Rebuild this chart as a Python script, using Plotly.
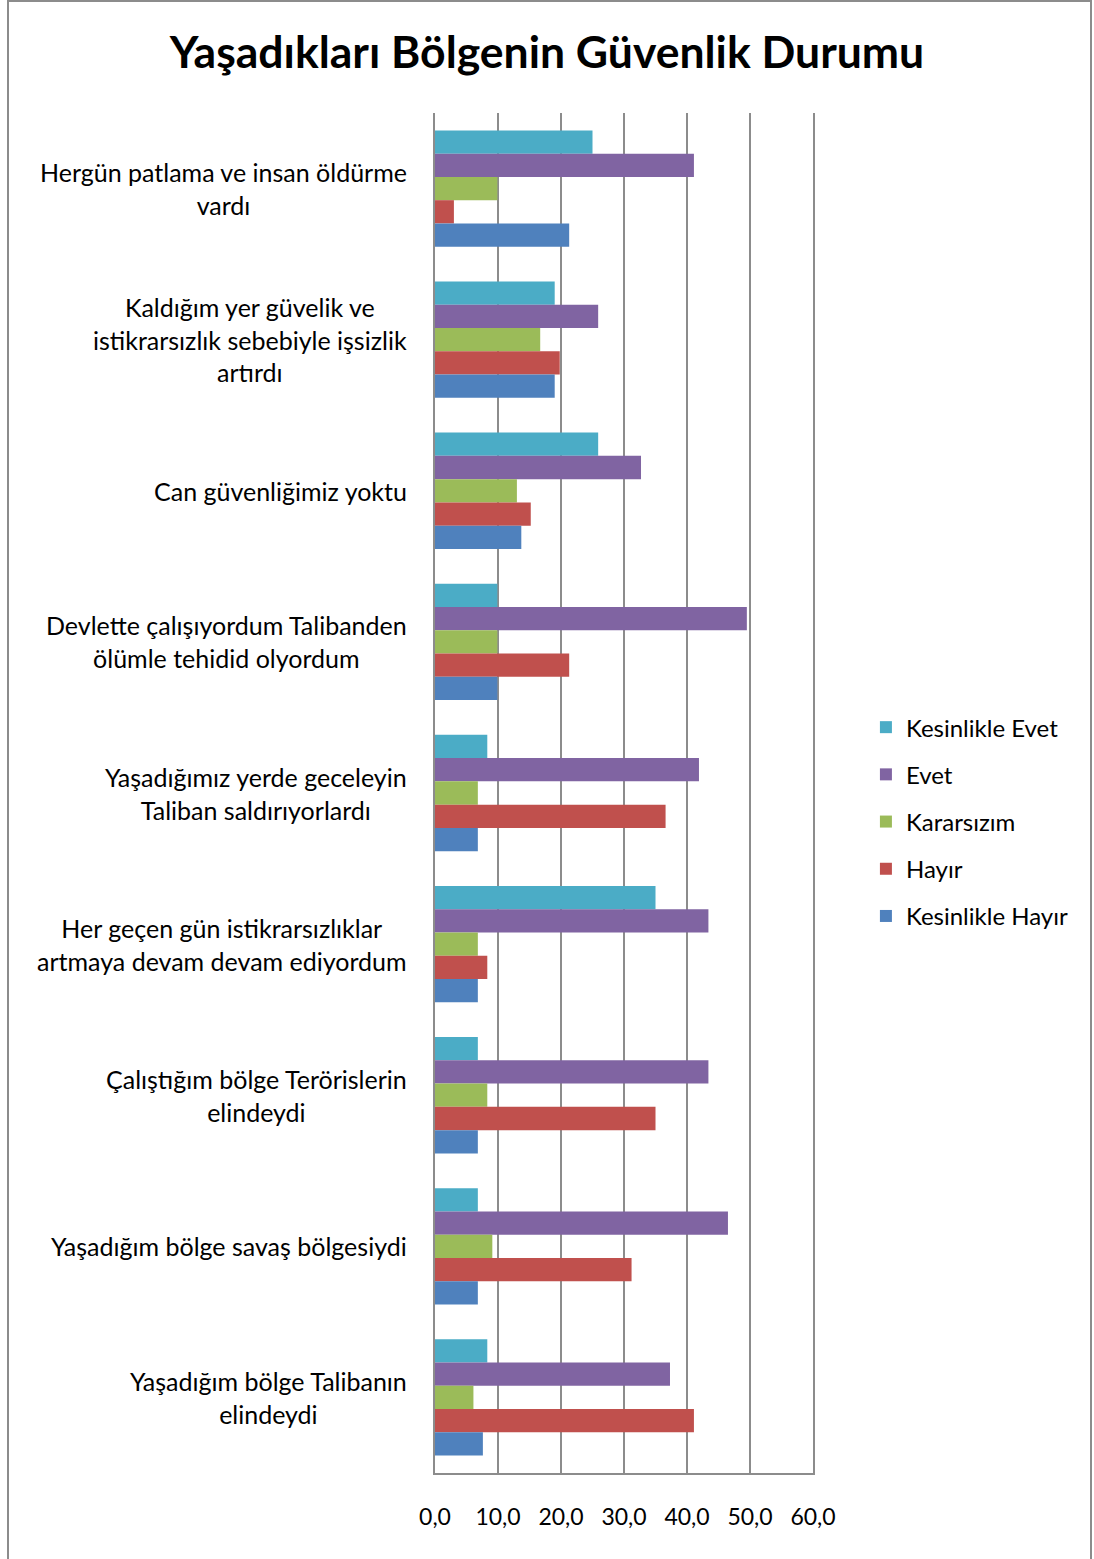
import plotly.graph_objects as go

# categories (top to bottom)
categories = [
    "Hergün patlama ve insan öldürme<br>vardı",
    "Kaldığım yer güvelik ve<br>istikrarsızlık sebebiyle işsizlik<br>artırdı",
    "Can güvenliğimiz yoktu",
    "Devlette çalışıyordum Talibanden<br>ölümle tehidid olyordum",
    "Yaşadığımız yerde geceleyin<br>Taliban saldırıyorlardı",
    "Her geçen gün istikrarsızlıklar<br>artmaya devam devam ediyordum",
    "Çalıştığım bölge Terörislerin<br>elindeydi",
    "Yaşadığım bölge savaş bölgesiydi",
    "Yaşadığım bölge Talibanın<br>elindeydi",
]

kesinlikle_evet = [25.0, 19.0, 25.9, 9.9, 8.3, 35.0, 6.8, 6.8, 8.3]
evet = [41.1, 25.9, 32.7, 49.5, 41.9, 43.4, 43.4, 46.5, 37.3]
kararsizim = [9.9, 16.7, 13.0, 9.9, 6.8, 6.8, 8.3, 9.1, 6.1]
hayir = [3.0, 19.8, 15.2, 21.3, 36.6, 8.3, 35.0, 31.2, 41.1]
kesinlikle_hayir = [21.3, 19.0, 13.7, 9.9, 6.8, 6.8, 6.8, 6.8, 7.6]

series_names = ["Kesinlikle Evet", "Evet", "Kararsızım", "Hayır", "Kesinlikle Hayır"]
series_values = [kesinlikle_evet, evet, kararsizim, hayir, kesinlikle_hayir]
colors = ["#4BACC6", "#8064A2", "#9BBB59", "#C0504D", "#4F81BD"]

FONT = "Lato"

fig = go.Figure()
for i, (name, vals) in enumerate(zip(series_names, series_values)):
    fig.add_trace(go.Bar(
        y=categories,
        x=vals,
        name=name,
        orientation='h',
        legendgroup=str(i),
        marker=dict(color=colors[i], line=dict(width=0)),
    ))

# category labels as centred multi-line annotations
for cat in categories:
    fig.add_annotation(
        x=0, xref='paper', y=cat, yref='y',
        text=cat, showarrow=False,
        xanchor='right', yanchor='middle', align='center',
        xshift=-26,
        font=dict(family=FONT, size=25, color="#000000"),
    )

# outer chart frame
L, R, T, B = 435, 281, 113, 86
pw, ph = 1094 - L - R, 1559 - T - B
fig.add_shape(type="rect", xref='paper', yref='paper', layer='below',
              x0=(8 - L) / pw, x1=(1091 - L) / pw,
              y0=(1559 - B - 1600) / ph, y1=(1559 - B - 1) / ph,
              line=dict(color="#8C8C8C", width=2), fillcolor="rgba(0,0,0,0)")

fig.update_layout(
    width=1094, height=1559,
    margin=dict(l=L, r=R, t=T, b=B),
    paper_bgcolor="white", plot_bgcolor="white",
    barmode='group', bargap=0.23, bargroupgap=0,
    separators=",.",
    title=dict(text="<b>Yaşadıkları Bölgenin Güvenlik Durumu</b>",
               x=0.5, xref='container', xanchor='center',
               y=1 - 52 / 1559, yanchor='middle',
               font=dict(family=FONT, size=44.5, color="#000000")),
    legend=dict(x=1.14, xanchor='left', y=0.479, yanchor='middle',
                font=dict(family=FONT, size=24, color="#000000"),
                tracegroupgap=13, itemwidth=30),
    font=dict(family=FONT),
)

fig.update_xaxes(range=[0, 60], dtick=10, tickformat=".1f",
                 showgrid=True, gridcolor="#8C8C8C", gridwidth=2,
                 showline=True, linecolor="#8C8C8C", linewidth=2, mirror=False,
                 ticks="", ticklabelstandoff=22,
                 tickfont=dict(family=FONT, size=23, color="#000000"),
                 zeroline=False)
fig.update_yaxes(autorange='reversed', showticklabels=False,
                 showgrid=False, showline=True, linecolor="#8C8C8C", linewidth=2,
                 mirror=True, ticks="")

fig.write_html("out.html", config={"displayModeBar": False},
               post_script="document.body.style.margin='0px';")
